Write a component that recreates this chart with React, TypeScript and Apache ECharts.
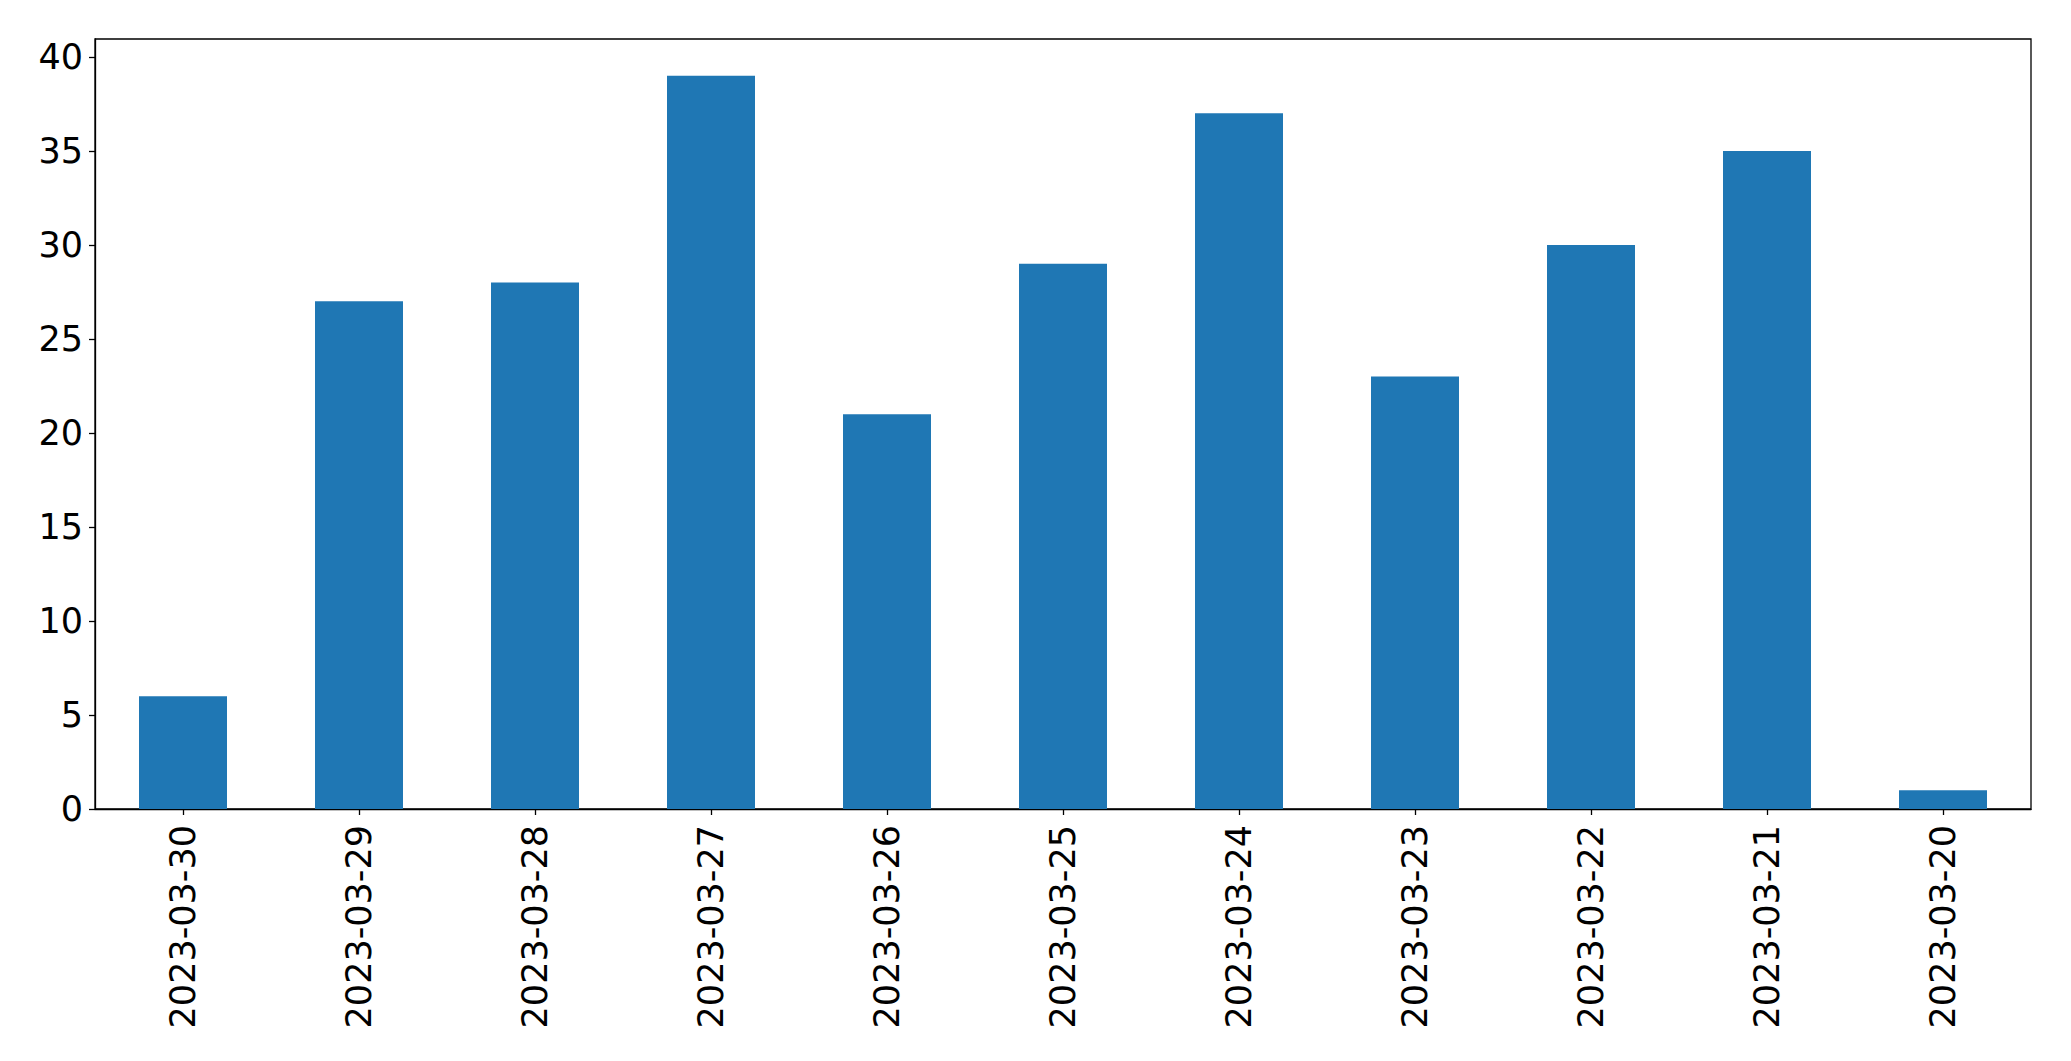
import React, { useEffect, useRef } from 'react';
import * as echarts from 'echarts';

const dates = [
  '2023-03-30', '2023-03-29', '2023-03-28', '2023-03-27', '2023-03-26', '2023-03-25',
  '2023-03-24', '2023-03-23', '2023-03-22', '2023-03-21', '2023-03-20'
];
const counts = [6, 27, 28, 39, 21, 29, 37, 23, 30, 35, 1];
const yTicks = [0, 5, 10, 15, 20, 25, 30, 35, 40];
const yMax = 40.95;

const FONT = 'DejaVu Sans';

const App: React.FC = () => {
  const chartRef = useRef<HTMLDivElement>(null);

  useEffect(() => {
    if (!chartRef.current) return;
    const chart = echarts.init(chartRef.current, undefined, { renderer: 'svg' });

    chart.setOption({
      animation: false,
      backgroundColor: '#fff',
      grid: {
        left: 95,
        top: 39,
        right: 40,
        bottom: 252,
        show: true,
        borderColor: '#000',
        borderWidth: 1.3,
        backgroundColor: 'transparent'
      },
      xAxis: {
        type: 'category',
        data: dates,
        axisLine: { show: true, lineStyle: { color: '#000', width: 1.3 } },
        axisTick: { show: true, alignWithLabel: true, length: 6, lineStyle: { color: '#000', width: 1.3 } },
        axisLabel: {
          rotate: 90,
          margin: 16,
          color: '#000',
          fontFamily: FONT,
          fontSize: 35,
          interval: 0
        },
        splitLine: { show: false }
      },
      yAxis: {
        type: 'value',
        min: 0,
        max: yMax,
        axisLine: { show: true, lineStyle: { color: '#000', width: 1.3 } },
        axisTick: { show: true, length: 6, customValues: yTicks, lineStyle: { color: '#000', width: 1.3 } },
        axisLabel: {
          customValues: yTicks,
          margin: 12,
          color: '#000',
          fontFamily: FONT,
          fontSize: 35
        },
        splitLine: { show: false }
      },
      series: [
        {
          type: 'bar',
          data: counts,
          barWidth: '50%',
          itemStyle: { color: '#1f77b4' }
        }
      ]
    });

    return () => {
      chart.dispose();
    };
  }, []);

  return (
    <div
      ref={chartRef}
      style={{ position: 'fixed', left: 0, top: 0, width: '2071px', height: '1061px' }}
    />
  );
};

export default App;
